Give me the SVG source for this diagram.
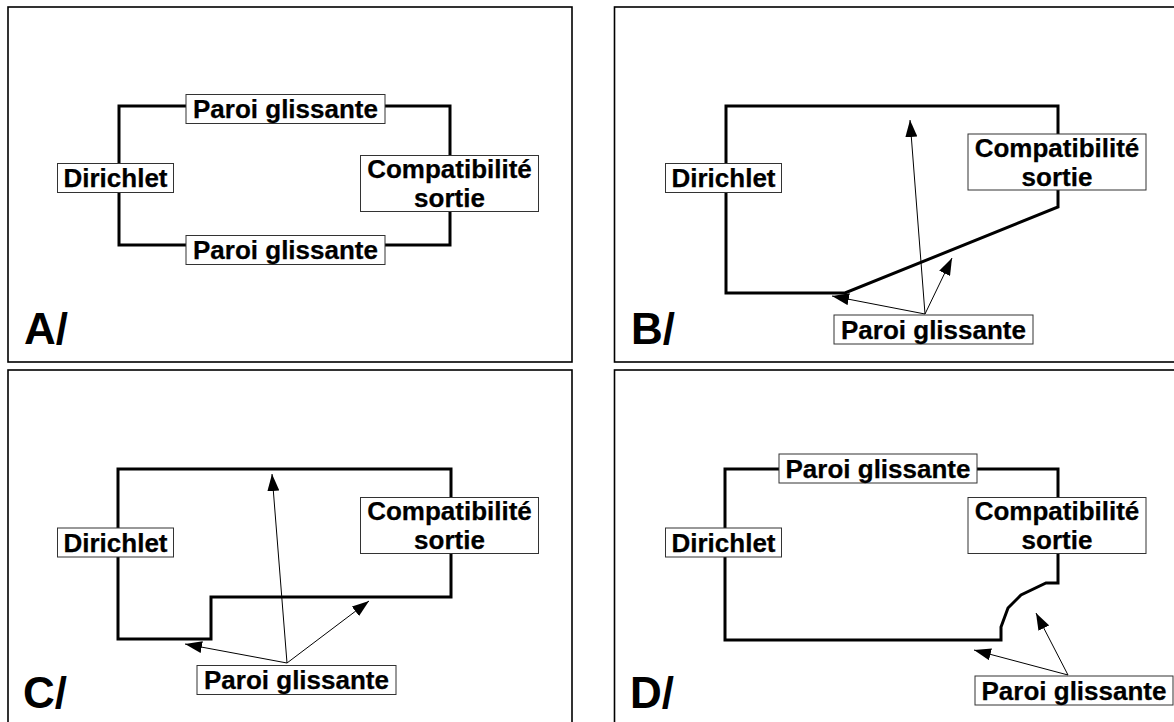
<svg xmlns="http://www.w3.org/2000/svg" width="1174" height="722" viewBox="0 0 1174 722">
<style>
text{font-family:"Liberation Sans",Arial,sans-serif;font-weight:bold;fill:#000;text-anchor:middle}
.l{font-size:26px;stroke:#000;stroke-width:.25}
.t{font-size:44px;text-anchor:start}
.frame{fill:#fff;stroke:#000;stroke-width:1.6}
.wall{fill:none;stroke:#000;stroke-width:3;stroke-linejoin:miter}
.box{fill:#fff;stroke:#333;stroke-width:1}
.arrow{fill:none;stroke:#000;stroke-width:1;marker-end:url(#ah)}
</style>
<defs>
<marker id="ah" markerUnits="userSpaceOnUse" markerWidth="18" markerHeight="12" refX="17" refY="6" orient="auto"><path d="M0 0L17 6L0 12Z" fill="#000"/></marker>
</defs>
<rect width="1174" height="722" fill="#fff"/>
<g id="frames">
<rect class="frame" x="8" y="7" width="564" height="355"/>
<rect class="frame" x="614.500" y="7" width="570" height="355"/>
<rect class="frame" x="8" y="370" width="564" height="360"/>
<rect class="frame" x="614.500" y="370" width="570" height="360"/>
</g>
<g id="connectors">
<path class="wall" d="M119 178V106H450V184M119 178V245H450V184"/>
<path class="wall" d="M726 178V106H1058V207L845 293H726V178"/>
<path class="wall" d="M118 528V469H451V597H211V639H118V528"/>
<path class="wall" d="M725 528V469H1058V583H1046L1021 595L1008 608L1001 627V640H725V528"/>
<line class="arrow" x1="925" y1="314" x2="910" y2="120"/>
<line class="arrow" x1="925" y1="314" x2="952" y2="258"/>
<line class="arrow" x1="925" y1="314" x2="832" y2="296"/>
<line class="arrow" x1="287" y1="663" x2="272" y2="474"/>
<line class="arrow" x1="287" y1="663" x2="369" y2="601"/>
<line class="arrow" x1="287" y1="663" x2="185" y2="644"/>
<line class="arrow" x1="1068" y1="675" x2="1036" y2="613"/>
<line class="arrow" x1="1068" y1="675" x2="974" y2="650"/>
</g>
<g id="a-paroi-top"><rect class="box" x="186" y="94.500" width="199" height="29"/><text class="l" x="285.500" y="118">Paroi glissante</text></g>
<g id="a-dirichlet"><rect class="box" x="57.500" y="163.500" width="116" height="29"/><text class="l" x="115.500" y="187">Dirichlet</text></g>
<g id="a-compat"><rect class="box" x="360.500" y="155.500" width="178" height="56"/><text class="l"><tspan x="449.500" y="178">Compatibilité</tspan><tspan x="449.500" y="207">sortie</tspan></text></g>
<g id="a-paroi-bottom"><rect class="box" x="186" y="235.500" width="199" height="29"/><text class="l" x="285.500" y="259">Paroi glissante</text></g>
<text id="a-label" class="t" x="24" y="344">A/</text>
<g id="b-dirichlet"><rect class="box" x="665.500" y="163.500" width="116" height="29"/><text class="l" x="723.500" y="187">Dirichlet</text></g>
<g id="b-compat"><rect class="box" x="968" y="134" width="178" height="56"/><text class="l"><tspan x="1057" y="157">Compatibilité</tspan><tspan x="1057" y="186">sortie</tspan></text></g>
<g id="b-paroi"><rect class="box" x="834" y="315" width="199" height="29"/><text class="l" x="933.500" y="339">Paroi glissante</text></g>
<text id="b-label" class="t" x="631" y="344">B/</text>
<g id="c-dirichlet"><rect class="box" x="57.500" y="528" width="116" height="29"/><text class="l" x="115.500" y="552">Dirichlet</text></g>
<g id="c-compat"><rect class="box" x="360.500" y="497.500" width="178" height="56"/><text class="l"><tspan x="449.500" y="520">Compatibilité</tspan><tspan x="449.500" y="549">sortie</tspan></text></g>
<g id="c-paroi"><rect class="box" x="197" y="665.500" width="199" height="29"/><text class="l" x="296.500" y="689">Paroi glissante</text></g>
<text id="c-label" class="t" x="23" y="708">C/</text>
<g id="d-paroi-top"><rect class="box" x="779" y="454" width="198" height="29"/><text class="l" x="878" y="478">Paroi glissante</text></g>
<g id="d-dirichlet"><rect class="box" x="665.500" y="528" width="116" height="29"/><text class="l" x="723.500" y="552">Dirichlet</text></g>
<g id="d-compat"><rect class="box" x="968" y="497.500" width="178" height="56"/><text class="l"><tspan x="1057" y="520">Compatibilité</tspan><tspan x="1057" y="549">sortie</tspan></text></g>
<g id="d-paroi-bottom"><rect class="box" x="975" y="676" width="198" height="29"/><text class="l" x="1074" y="700">Paroi glissante</text></g>
<text id="d-label" class="t" x="630" y="708">D/</text>
</svg>
